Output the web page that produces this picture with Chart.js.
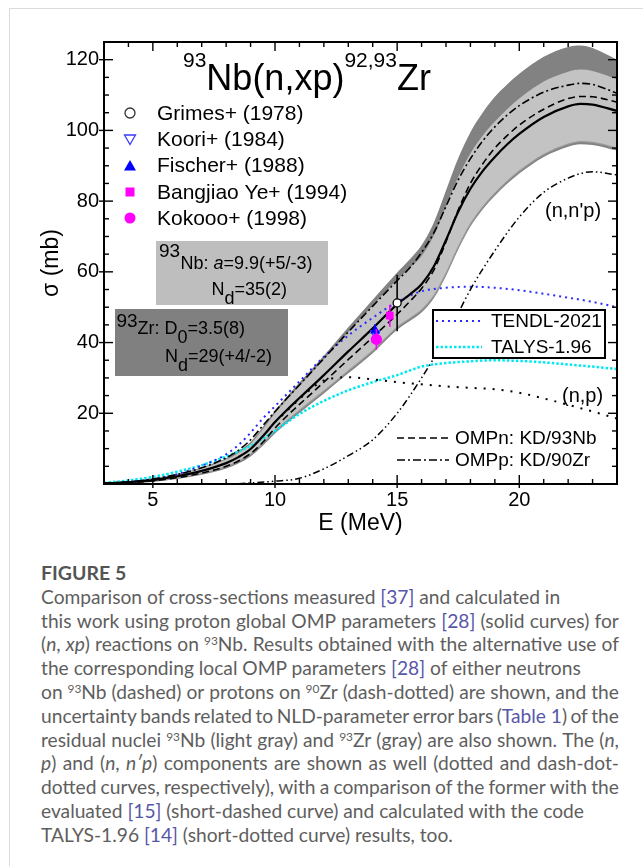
<!DOCTYPE html>
<html>
<head>
<meta charset="utf-8">
<script src="https://cdn.jsdelivr.net/npm/chart.js@4.4.1/dist/chart.umd.min.js"></script>
<style>
  html, body { margin: 0; padding: 0; background: #fff; }
  body { width: 643px; height: 866px; position: relative; overflow: hidden; }
  #card { position: absolute; left: 9px; top: 8px; right: 0; bottom: 0; border-top: 1px solid #dcdcdc; border-left: 1px solid #dcdcdc; }
  #plot { position: absolute; left: 0; top: 0; }
  #caption { position: absolute; left: 41px; top: 561px; width: 578px; font-family: Lato, "Open Sans", sans-serif; font-size: 19.2px; line-height: 23.8px; color: #5e5e5e; }
  #caption .head { font-weight: 700; font-size: 19.5px; color: #555; }
  #caption .l { height: 23.8px; white-space: nowrap; }
  #caption .j { display: flex; justify-content: space-between; }
  #caption a { color: #5757a8; text-decoration: none; }
  #caption sup { font-size: 0.62em; vertical-align: 0.5em; line-height: 0; }
</style>
</head>
<body>
<div id="card"></div>
<canvas id="plot" width="643" height="545"></canvas>
<div id="caption">
  <div class="head">FIGURE 5</div>
  <div class="l">Comparison of cross-sections measured <a>[37]</a> and calculated in</div>
  <div class="l j">this work using proton global OMP parameters <a>[28]</a> (solid curves) for</div>
  <div class="l j">(<i>n</i>, <i>xp</i>) reactions on <sup>93</sup>Nb. Results obtained with the alternative use of</div>
  <div class="l">the corresponding local OMP parameters <a>[28]</a> of either neutrons</div>
  <div class="l j">on <sup>93</sup>Nb (dashed) or protons on <sup>90</sup>Zr (dash-dotted) are shown, and the</div>
  <div class="l j">uncertainty bands related to NLD-parameter error bars (<a>Table&nbsp;1</a>) of the</div>
  <div class="l j">residual nuclei <sup>93</sup>Nb (light gray) and <sup>93</sup>Zr (gray) are also shown. The (<i>n</i>,</div>
  <div class="l j"><i>p</i>) and (<i>n</i>, <i>n′p</i>) components are shown as well (dotted and dash-dot-</div>
  <div class="l j">dotted curves, respectively), with a comparison of the former with the</div>
  <div class="l">evaluated <a>[15]</a> (short-dashed curve) and calculated with the code</div>
  <div class="l">TALYS-1.96 <a>[14]</a> (short-dotted curve) results, too.</div>
</div>
<script>
// energies (MeV) for the calculated curves of this work
const energy = [3, 4, 5, 6, 7, 8, 8.5, 9, 9.5, 10, 10.5, 11, 12, 13, 14, 15, 15.5, 16, 16.5, 17, 17.5, 18, 18.5, 19, 19.5, 20, 21, 22, 22.5, 23, 24];
const thisWork = [0.2, 0.5, 1.1, 2.2, 3.7, 5.9, 7.6, 9.9, 13.5, 17.5, 21, 24.3, 30.8, 37.5, 44, 50.8, 53.5, 56.5, 61.5, 69, 77, 83.5, 88.5, 92.5, 96, 99, 103.8, 106.8, 107.5, 107.3, 105.5];
const ompN = [0.1, 0.4, 0.9, 1.8, 3.1, 5, 6.5, 8.6, 11.8, 15.8, 19.3, 22.5, 28.8, 35.2, 41.5, 48, 51.5, 55.3, 60.5, 68.5, 77.5, 85, 90.5, 95, 98.5, 101.5, 106, 109, 109.6, 109.5, 108];
const ompP = [0.2, 0.6, 1.4, 2.7, 4.6, 7.4, 9.5, 12.5, 16.5, 20.5, 24.3, 28, 35.5, 43, 50.3, 57.5, 61, 65.5, 71, 78.5, 86, 92, 97, 101, 104.3, 107, 110.8, 112.8, 113.3, 113, 110.5];

// uncertainty bands (93Nb light gray, 93Zr gray)
const nbBandUpper = [0.3, 0.7, 1.4, 2.7, 4.4, 6.9, 8.8, 11.4, 15.5, 20, 24, 27.8, 35.3, 43, 50.5, 57.8, 61, 64.5, 70.2, 78.5, 86.8, 93.5, 98.5, 102.5, 106, 109, 113.8, 116.6, 117.2, 116.8, 114.5];
const nbBandLower = [0.1, 0.3, 0.8, 1.7, 3, 4.9, 6.4, 8.4, 11.5, 15, 18, 20.8, 26.3, 32, 37.7, 44.3, 46.7, 49.2, 53.2, 59.5, 67, 73.5, 78.3, 82.2, 85.6, 88.5, 93.2, 96.1, 96.8, 96.6, 95];
const zrBandUpper = [0.4, 0.8, 1.6, 2.9, 4.7, 7.3, 9.3, 11.9, 16.1, 20.7, 24.8, 28.7, 36.3, 44.3, 52.1, 59.8, 63.4, 67.5, 73.9, 83, 92.1, 99.5, 105, 109.5, 113, 116, 120.8, 123.6, 124, 123.3, 120];
const zrBandLower = [0, 0.2, 0.6, 1.4, 2.6, 4.4, 5.8, 7.8, 10.8, 14.3, 17.3, 20.1, 25.6, 31.3, 37, 43.6, 46, 48.5, 52.5, 58.8, 66.3, 72.8, 77.6, 81.5, 84.9, 87.8, 92.5, 95.4, 96.1, 95.9, 94.3];

// evaluated / other code
const libEnergy = [3, 4, 5, 6, 7, 7.5, 8, 8.5, 9, 9.5, 10, 11, 12, 13, 14, 15, 16, 17, 18, 19, 20, 21, 22, 23, 24];
const tendl = [0.2, 0.6, 1.3, 2.8, 5.2, 6.6, 8.4, 11, 14.5, 18.5, 22, 29, 36, 42, 47, 51.5, 54.5, 55.5, 55.8, 55.5, 54.8, 53.8, 52.7, 51.5, 50];
const talys = [0.3, 1, 2, 3.5, 5.3, 6.5, 7.8, 9.2, 10.8, 12.8, 15, 19.8, 23.5, 26.5, 28.8, 30.8, 33.2, 34.2, 34.7, 35, 34.8, 34.4, 33.8, 33.2, 32.5];

// components
const npEnergy = [10, 11, 11.5, 12, 12.5, 13, 14, 15, 16, 17, 18, 19, 20, 21, 22, 23, 24];
const np = [17.5, 24, 27, 29.3, 30, 30.2, 29.6, 28.8, 28.2, 27.6, 27.2, 26.8, 25.8, 24.2, 22.4, 20.5, 18.5];
const nnpEnergy = [8.5, 9, 10, 11, 12, 13, 14, 15, 16, 17, 18, 19, 20, 21, 22, 22.5, 23, 24];
const nnp = [0.1, 0.3, 0.8, 1.6, 4.3, 8, 12.5, 20, 30, 41.5, 55, 66, 75.5, 82.5, 86.5, 87.8, 88.3, 87.4];

// measured
const grimesE = [15.0], grimesXs = [51.2], grimesErr = [8];
const kooriE = [14.1], kooriXs = [42.6], kooriErr = [2.6];
const fischerE = [14.1], fischerXs = [43.4], fischerErr = [1.8];
const bangjiaoE = [14.7], bangjiaoXs = [47.6], bangjiaoErr = [3.1];
const kokoooE = [14.15], kokoooXs = [40.9], kokoooErr = [2.9];

const xTicksMajor = [5, 10, 15, 20];
const yTicksMajor = [20, 40, 60, 80, 100, 120];

const FONT = '"Liberation Sans", Arial, sans-serif';

// spread the words of the justified caption lines
document.querySelectorAll('#caption .j').forEach(line => {
    const words = line.innerHTML.trim().split(/\s+/);
    line.innerHTML = words.map(w => '<span>' + w + '</span>').join('');
});

function pts(xs, ys) {
    return xs.map((x, i) => ({ x: x, y: ys[i] }));
}

function curve(label, xs, ys, color, width, dash, order) {
    return {
        label: label,
        data: pts(xs, ys),
        borderColor: color,
        borderWidth: width,
        borderDash: dash,
        pointRadius: 0,
        fill: false,
        cubicInterpolationMode: 'monotone',
        order: order
    };
}

function marks(label, xs, ys, errs, style, color, fill, radius, rotation, order) {
    return {
        label: label,
        data: pts(xs, ys),
        errors: errs,
        showLine: false,
        pointStyle: style,
        pointRotation: rotation,
        pointRadius: radius,
        pointBorderColor: color,
        pointBackgroundColor: fill,
        pointBorderWidth: 1.3,
        order: order
    };
}

// draw a run of text pieces with their own size / offset
function rich(ctx, x, y, parts) {
    let cx = x;
    ctx.textBaseline = 'alphabetic';
    ctx.textAlign = 'left';
    parts.forEach(p => {
        ctx.font = (p.italic ? 'italic ' : '') + p.size + 'px ' + FONT;
        ctx.fillText(p.t, cx, y + (p.dy || 0));
        cx += ctx.measureText(p.t).width;
    });
}

function seg(ctx, x1, y1, x2, y2) {
    ctx.beginPath();
    ctx.moveTo(x1, y1);
    ctx.lineTo(x2, y2);
    ctx.stroke();
}

// error bars drawn just before their point set
const errorBars = {
    id: 'errorBars',
    beforeDatasetDraw(chart, args) {
        const ds = chart.data.datasets[args.index];
        if (!ds.errors) return;
        const { ctx, scales: { x, y } } = chart;
        ctx.save();
        ctx.strokeStyle = ds.pointBorderColor;
        ctx.lineWidth = 1.6;
        ds.data.forEach((p, i) => {
            const px = x.getPixelForValue(p.x);
            seg(ctx, px, y.getPixelForValue(p.y - ds.errors[i]), px, y.getPixelForValue(p.y + ds.errors[i]));
        });
        ctx.restore();
    }
};

// frame, inside ticks and all the annotations
const decorations = {
    id: 'decorations',
    afterDatasetsDraw(chart) {
        const { ctx, chartArea: a, scales: { x, y } } = chart;
        ctx.save();

        // TENDL / TALYS legend box
        ctx.fillStyle = '#fff';
        ctx.fillRect(433, 310, 172, 48);
        ctx.strokeStyle = '#000';
        ctx.lineWidth = 2;
        ctx.strokeRect(433, 310, 172, 48);
        ctx.lineWidth = 2;
        ctx.setLineDash([2, 4]);
        ctx.strokeStyle = '#2a2aff';
        seg(ctx, 436, 321, 482, 321);
        ctx.setLineDash([2.5, 2]);
        ctx.lineWidth = 2.5;
        ctx.strokeStyle = '#00e8f0';
        seg(ctx, 436, 347, 482, 347);
        ctx.setLineDash([]);
        ctx.fillStyle = '#000';
        ctx.textBaseline = 'middle';
        ctx.font = '19px ' + FONT;
        ctx.fillText('TENDL-2021', 491, 322);
        ctx.fillText('TALYS-1.96', 491, 348);

        // OMP legend
        ctx.strokeStyle = '#000';
        ctx.lineWidth = 1.6;
        ctx.setLineDash([7, 4]);
        seg(ctx, 397, 438, 449, 438);
        ctx.setLineDash([8, 3, 2, 3]);
        seg(ctx, 397, 460, 449, 460);
        ctx.setLineDash([]);
        ctx.fillText('OMPn: KD/93Nb', 455, 439);
        ctx.fillText('OMPp: KD/90Zr', 455, 461);

        // component labels
        ctx.font = '20px ' + FONT;
        ctx.fillText("(n,n'p)", 545, 211);
        ctx.fillText('(n,p)', 562, 396);

        // NLD parameter boxes
        ctx.fillStyle = '#bebebe';
        ctx.fillRect(156, 241, 172, 64);
        ctx.fillStyle = '#808080';
        ctx.fillRect(115, 309, 173, 67);
        ctx.fillStyle = '#000';
        rich(ctx, 159, 256.5, [{ t: '93', size: 19 }]);
        rich(ctx, 180.5, 268.5, [{ t: 'Nb: ', size: 18 }, { t: 'a', size: 18, italic: true }, { t: '=9.9(+5/-3)', size: 18 }]);
        rich(ctx, 211.5, 295, [{ t: 'N', size: 18 }, { t: 'd', size: 18, dy: 9 }, { t: '=35(2)', size: 18 }]);
        rich(ctx, 116.5, 326.5, [{ t: '93', size: 19 }]);
        rich(ctx, 137.5, 333.5, [{ t: 'Zr: D', size: 18 }, { t: '0', size: 18, dy: 9 }, { t: '=3.5(8)', size: 18 }]);
        rich(ctx, 165, 361.5, [{ t: 'N', size: 18 }, { t: 'd', size: 18, dy: 9 }, { t: '=29(+4/-2)', size: 18 }]);

        // title
        rich(ctx, 183, 90, [{ t: '93', size: 21, dy: -23 }, { t: 'Nb(n,xp)', size: 36 }, { t: '92,93', size: 21, dy: -23 }, { t: 'Zr', size: 36 }]);

        // measured-data legend
        const names = ['Grimes+ (1978)', 'Koori+ (1984)', 'Fischer+ (1988)', 'Bangjiao Ye+ (1994)', 'Kokooo+ (1998)'];
        const rows = [113, 139.5, 165.5, 192, 218];
        ctx.font = '21px ' + FONT;
        ctx.textBaseline = 'middle';
        names.forEach((n, i) => ctx.fillText(n, 157, rows[i] + 1));
        ctx.lineWidth = 1.3;
        ctx.strokeStyle = '#333';
        ctx.beginPath(); ctx.arc(130, rows[0], 5, 0, Math.PI * 2); ctx.stroke();
        ctx.strokeStyle = '#3a3aff';
        ctx.beginPath(); ctx.moveTo(124.5, rows[1] - 4.5); ctx.lineTo(135.5, rows[1] - 4.5); ctx.lineTo(130, rows[1] + 5); ctx.closePath(); ctx.stroke();
        ctx.fillStyle = '#0000ff';
        ctx.beginPath(); ctx.moveTo(124, rows[2] + 5); ctx.lineTo(136, rows[2] + 5); ctx.lineTo(130, rows[2] - 5.5); ctx.closePath(); ctx.fill();
        ctx.fillStyle = '#ff00ff';
        ctx.fillRect(125.5, rows[3] - 4.5, 9, 9);
        ctx.beginPath(); ctx.arc(130, rows[4], 5.5, 0, Math.PI * 2); ctx.fill();

        // frame + inward ticks
        ctx.strokeStyle = '#000';
        ctx.lineWidth = 1.4;
        x.ticks.forEach(t => {
            const px = x.getPixelForValue(t.value);
            const major = xTicksMajor.includes(t.value);
            const len = major ? 9 : 5;
            seg(ctx, px, a.bottom + (major ? 4 : 0), px, a.bottom - len);
            seg(ctx, px, a.top, px, a.top + len);
        });
        y.ticks.forEach(t => {
            const py = y.getPixelForValue(t.value);
            const major = yTicksMajor.includes(t.value);
            const len = major ? 9 : 5;
            seg(ctx, a.left - (major ? 5 : 0), py, a.left + len, py);
            seg(ctx, a.right, py, a.right - len, py);
        });
        ctx.lineWidth = 2;
        ctx.strokeRect(a.left, a.top, a.right - a.left, a.bottom - a.top);
        ctx.restore();
    }
};

const datasets = [
    marks('Grimes+ (1978)', grimesE, grimesXs, grimesErr, 'circle', '#000', '#fff', 4, 0, 0),
    marks('Kokooo+ (1998)', kokoooE, kokoooXs, kokoooErr, 'circle', '#ff00ff', '#ff00ff', 5, 0, 0),
    marks('Bangjiao Ye+ (1994)', bangjiaoE, bangjiaoXs, bangjiaoErr, 'rect', '#ff00ff', '#ff00ff', 4.5, 0, 0),
    marks('Fischer+ (1988)', fischerE, fischerXs, fischerErr, 'triangle', '#0000ff', '#0000ff', 4.5, 0, 0),
    marks('Koori+ (1984)', kooriE, kooriXs, kooriErr, 'triangle', '#3a3aff', 'rgba(0,0,0,0)', 5, 180, 0),
    curve('this work', energy, thisWork, '#000', 2.2, [], 2),
    curve('OMPn: KD/93Nb', energy, ompN, '#000', 1.6, [7, 4], 3),
    curve('OMPp: KD/90Zr', energy, ompP, '#000', 1.6, [8, 3, 2, 3], 4),
    curve('(n,p)', npEnergy, np, '#000', 2, [2, 7], 5),
    curve("(n,n'p)", nnpEnergy, nnp, '#000', 1.5, [7, 3, 1.5, 3, 1.5, 3], 6),
    curve('TENDL-2021', libEnergy, tendl, '#2a2aff', 2, [2, 4], 7),
    curve('TALYS-1.96', libEnergy, talys, '#00e8f0', 2.5, [2.5, 2], 8),
    // 93Nb band (light gray)
    { label: '93Nb band', data: pts(energy, nbBandUpper), borderWidth: 0, pointRadius: 0, backgroundColor: '#c3c3c3', fill: '+1', cubicInterpolationMode: 'monotone', order: 19 },
    { label: '93Nb band low', data: pts(energy, nbBandLower), borderColor: '#999', borderWidth: 1.2, pointRadius: 0, fill: false, cubicInterpolationMode: 'monotone', order: 17 },
    // 93Zr band (gray)
    { label: '93Zr band', data: pts(energy, zrBandUpper), borderWidth: 0, pointRadius: 0, backgroundColor: '#828282', fill: '+1', cubicInterpolationMode: 'monotone', order: 20 },
    { label: '93Zr band low', data: pts(energy, zrBandLower), borderWidth: 0, pointRadius: 0, fill: false, cubicInterpolationMode: 'monotone', order: 21 }
];

new Chart(document.getElementById('plot').getContext('2d'), {
    type: 'line',
    data: { datasets: datasets },
    options: {
        responsive: false,
        animation: false,
        events: [],
        layout: { padding: { top: 42, right: 26, bottom: 0, left: 0 } },
        plugins: { legend: { display: false }, tooltip: { enabled: false } },
        scales: {
            x: {
                type: 'linear',
                min: 3,
                max: 24,
                grid: { display: false, drawTicks: false },
                border: { display: false },
                ticks: {
                    stepSize: 1,
                    autoSkip: false,
                    maxRotation: 0,
                    padding: 4,
                    color: '#000',
                    font: { family: FONT, size: 20 },
                    callback: v => xTicksMajor.includes(v) ? String(v) : ''
                },
                title: { display: true, text: 'E (MeV)', color: '#000', font: { family: FONT, size: 23 }, padding: { bottom: 8 } },
                afterFit: s => { s.height = 61; }
            },
            y: {
                min: 0,
                max: 125,
                grid: { display: false, drawTicks: false },
                border: { display: false },
                ticks: {
                    stepSize: 5,
                    autoSkip: false,
                    padding: 5,
                    color: '#000',
                    font: { family: FONT, size: 20 },
                    callback: v => yTicksMajor.includes(v) ? String(v) : ''
                },
                title: { display: true, text: 'σ (mb)', color: '#000', font: { family: FONT, size: 23 }, padding: { top: 38 } },
                afterFit: s => { s.width = 104; }
            }
        }
    },
    plugins: [errorBars, decorations]
});
</script>
</body>
</html>
